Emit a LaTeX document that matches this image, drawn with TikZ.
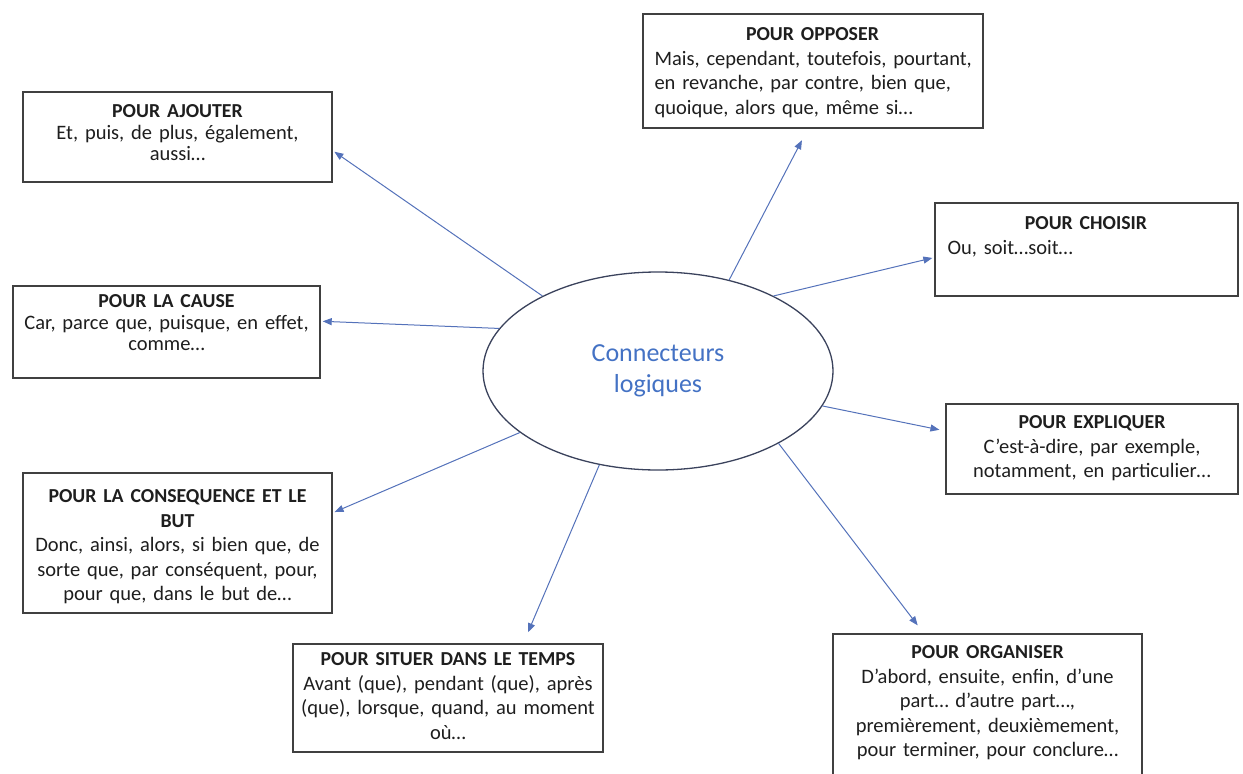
\documentclass[tikz,border=0pt]{standalone}
\usepackage{fontspec}
\setmainfont{Carlito}
\usetikzlibrary{shapes.geometric,positioning,arrows.meta}
\definecolor{arrowblue}{RGB}{84,114,186}
\definecolor{ringgray}{RGB}{58,66,92}
\definecolor{boxgray}{RGB}{64,64,64}
\definecolor{textgray}{RGB}{30,30,30}
\definecolor{titleblue}{RGB}{68,114,196}
\newcommand{\ttl}[1]{{\fontsize{19.8}{24.5}\selectfont\bfseries #1}}

\begin{document}
\begin{tikzpicture}[x=1pt,y=-1pt,
  connbox/.style={draw=boxgray,line width=1.4pt,inner sep=0pt},
  boxtext/.style={inner sep=0pt,align=center,text=textgray,font=\fontsize{20.5}{24.5}\selectfont},
  tight/.style={font=\fontsize{20.5}{21.5}\selectfont},
  link/.style={color=arrowblue,line width=1pt,shorten >=2pt,-{Triangle[length=9pt,width=7pt]}}]

\useasboundingbox (0,0) rectangle (1243,774);
\clip (0,0) rectangle (1243,774);

% centre
\node[ellipse,draw=ringgray,line width=1.3pt,minimum width=350pt,minimum height=198pt,inner sep=0pt,
  align=center,text=titleblue,font=\fontsize{26}{31}\selectfont] (conn) at (658,371) {Connecteurs\\logiques};

% cadres
\node[connbox,minimum width=309pt,minimum height=90pt] (ajout) at (177.5,137) {};
\node[connbox,minimum width=340pt,minimum height=114pt] (oppos) at (813,71) {};
\node[connbox,minimum width=307pt,minimum height=92pt] (cause) at (166.5,332) {};
\node[connbox,minimum width=309pt,minimum height=140pt] (conseq) at (177.5,543) {};
\node[connbox,minimum width=303pt,minimum height=93pt] (choix) at (1086.5,249.5) {};
\node[connbox,minimum width=292pt,minimum height=90pt] (expl) at (1092,449) {};
\node[connbox,minimum width=310pt,minimum height=108pt] (temps) at (448,698) {};
\node[connbox,minimum width=309pt,minimum height=156pt] (organ) at (987.5,712) {};

% textes
\node[boxtext,tight,text width=300pt,below=13.4pt of ajout.north] (ajoutT)
  {\ttl{POUR AJOUTER}\\Et, puis, de plus, également,\\aussi…};
\node[boxtext,align=left,text width=320pt,below right=14.4pt and 12pt of oppos.north west] (opposT)
  {\makebox[316pt]{\ttl{POUR OPPOSER}}\\Mais, cependant, toutefois, pourtant,\\en revanche, par contre, bien que,\\quoique, alors que, même si…};
\node[boxtext,tight,text width=300pt,below=9.4pt of cause.north] (causeT)
  {\ttl{POUR LA CAUSE}\\Car, parce que, puisque, en effet,\\comme…};
\node[boxtext,text width=305pt,below=17.4pt of conseq.north] (conseqT)
  {\ttl{POUR LA CONSEQUENCE ET LE}\\\ttl{BUT}\\Donc, ainsi, alors, si bien que, de\\sorte que, par conséquent, pour,\\pour que, dans le but de…};
\node[boxtext,align=left,text width=277pt,below right=14.4pt and 13pt of choix.north west] (choixT)
  {\makebox[277pt]{\ttl{POUR CHOISIR}}\\Ou, soit…soit…};
\node[boxtext,text width=285pt,below=12.4pt of expl.north] (explT)
  {\ttl{POUR EXPLIQUER}\\C’est-à-dire, par exemple,\\notamment, en particulier…};
\node[boxtext,text width=305pt,below=9.4pt of temps.north] (tempsT)
  {\ttl{POUR SITUER DANS LE TEMPS}\\Avant (que), pendant (que), après\\(que), lorsque, quand, au moment\\où…};
\node[boxtext,text width=305pt,below=12.4pt of organ.north] (organT)
  {\ttl{POUR ORGANISER}\\D’abord, ensuite, enfin, d’une\\part… d’autre part…,\\premièrement, deuxièmement,\\pour terminer, pour conclure…};

% fleches
\path[link]
  (conn.147) edge (ajout.-5)
  (conn.165) edge (cause.4)
  (conn.204) edge (conseq.11)
  (conn.238) edge[shorten >=12pt] (temps.36)
  (conn.52) edge[shorten >=13pt] (oppos.265)
  (conn.33) edge (choix.183)
  (conn.348) edge[shorten >=6pt] (expl.173)
  (conn.-31) edge[shorten >=10pt] (organ.129);

\end{tikzpicture}
\end{document}
